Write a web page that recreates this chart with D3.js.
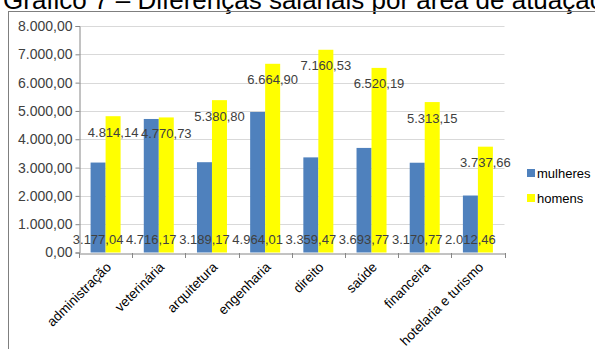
<!DOCTYPE html>
<html>
<head>
<meta charset="utf-8">
<script src="https://cdn.jsdelivr.net/npm/d3@7"></script>
<style>
  html, body { margin: 0; padding: 0; background: #fff; }
  svg { display: block; font-family: "Liberation Sans", Arial, sans-serif; }
</style>
</head>
<body>
<svg id="chart" width="595" height="349"></svg>
<script>
// Average salary by field of work, women vs men (R$)
const categories = ["administração", "veterinária", "arquitetura", "engenharia", "direito", "saúde", "financeira", "hotelaria e turismo"];
const mulheres = [3177.04, 4716.17, 3189.17, 4964.01, 3359.47, 3693.77, 3170.77, 2012.46];
const homens   = [4814.14, 4770.73, 5380.80, 6664.90, 7160.53, 6520.19, 5313.15, 3737.66];
const yTicks = [0, 1000, 2000, 3000, 4000, 5000, 6000, 7000, 8000];
const seriesNames = ["mulheres", "homens"];
const seriesColors = ["#4f81bd", "#ffff00"];

const svg = d3.select("#chart");
const fmt = v => v.toLocaleString("pt-BR", { minimumFractionDigits: 2, maximumFractionDigits: 2 });

const plot = { left: 79, right: 504.5, top: 26, bottom: 252.5 };

const x = d3.scaleBand().domain(categories).range([plot.left, plot.right]).paddingInner(0).paddingOuter(0);
const y = d3.scaleLinear().domain([0, 8000]).range([plot.bottom, plot.top]);
const barW = 15;

// title
svg.append("text")
  .attr("x", 3).attr("y", 9)
  .attr("font-size", 26)
  .attr("fill", "#000")
  .text("Gráfico 7 – Diferenças salariais por área de atuação");

// chart frame
svg.append("rect")
  .attr("x", 8.5).attr("y", 11.5)
  .attr("width", 700).attr("height", 400)
  .attr("fill", "none").attr("stroke", "#7f7f7f").attr("stroke-width", 1);

// gridlines
svg.append("g").selectAll("line").data(yTicks.filter(d => d > 0)).join("line")
  .attr("x1", plot.left).attr("x2", plot.right)
  .attr("y1", d => Math.round(y(d)) + 0.5).attr("y2", d => Math.round(y(d)) + 0.5)
  .attr("stroke", "#d9d9d9");

// y axis
const yAxis = svg.append("g")
  .attr("transform", `translate(${plot.left + 0.5},0)`)
  .call(d3.axisLeft(y).tickValues(yTicks).tickFormat(fmt).tickSize(4).tickPadding(3));
yAxis.select(".domain").attr("stroke", "#868686");
yAxis.selectAll(".tick line").attr("stroke", "#868686");
yAxis.selectAll(".tick text").attr("font-size", 14).attr("fill", "#404040")
  .attr("font-family", "Liberation Sans, Arial, sans-serif");

// bars
const groups = svg.append("g").selectAll("g").data(categories).join("g")
  .attr("transform", d => `translate(${x(d) + x.bandwidth() / 2},0)`);

groups.append("rect")
  .attr("x", -barW).attr("width", barW)
  .attr("y", (d, i) => y(mulheres[i]))
  .attr("height", (d, i) => y(0) - y(mulheres[i]))
  .attr("fill", seriesColors[0]);

groups.append("rect")
  .attr("x", 0).attr("width", barW)
  .attr("y", (d, i) => y(homens[i]))
  .attr("height", (d, i) => y(0) - y(homens[i]))
  .attr("fill", seriesColors[1]);

// x axis
const xAxis = svg.append("g")
  .attr("transform", `translate(0,${Math.round(plot.bottom) + 0.5})`)
  .call(d3.axisBottom(x).tickSize(0).tickFormat(""));
xAxis.select(".domain").attr("stroke", "#868686");
svg.append("g").selectAll("line").data(categories.concat([null])).join("line")
  .attr("x1", (d, i) => Math.round(plot.left + i * x.bandwidth()) + 0.5)
  .attr("x2", (d, i) => Math.round(plot.left + i * x.bandwidth()) + 0.5)
  .attr("y1", Math.round(plot.bottom)).attr("y2", Math.round(plot.bottom) + 5)
  .attr("stroke", "#868686");

// category labels
svg.append("g").selectAll("text").data(categories).join("text")
  .attr("transform", d => `translate(${x(d) + x.bandwidth() / 2 + 3},${plot.bottom + 12}) rotate(-45)`)
  .attr("text-anchor", "end")
  .attr("dy", "0.35em")
  .attr("font-size", 13.5)
  .attr("fill", "#000")
  .text(d => d);

// value labels: women at the base of the bar, men just inside the top
groups.append("text")
  .attr("x", -barW / 2)
  .attr("y", y(0) - 13)
  .attr("dy", "0.35em")
  .attr("text-anchor", "middle")
  .attr("font-size", 13)
  .attr("fill", "#404040")
  .text((d, i) => fmt(mulheres[i]));

groups.append("text")
  .attr("x", barW / 2)
  .attr("y", (d, i) => y(homens[i]) + 16)
  .attr("dy", "0.35em")
  .attr("text-anchor", "middle")
  .attr("font-size", 13)
  .attr("fill", "#404040")
  .text((d, i) => fmt(homens[i]));

// legend
const legend = svg.append("g").selectAll("g").data(seriesNames).join("g")
  .attr("transform", (d, i) => `translate(527,${173 + i * 25})`);
legend.append("rect").attr("x", 0).attr("y", -4).attr("width", 8).attr("height", 8)
  .attr("fill", (d, i) => seriesColors[i]);
legend.append("text").attr("x", 10).attr("dy", "0.35em")
  .attr("font-size", 13).attr("fill", "#000").text(d => d);
</script>
</body>
</html>
